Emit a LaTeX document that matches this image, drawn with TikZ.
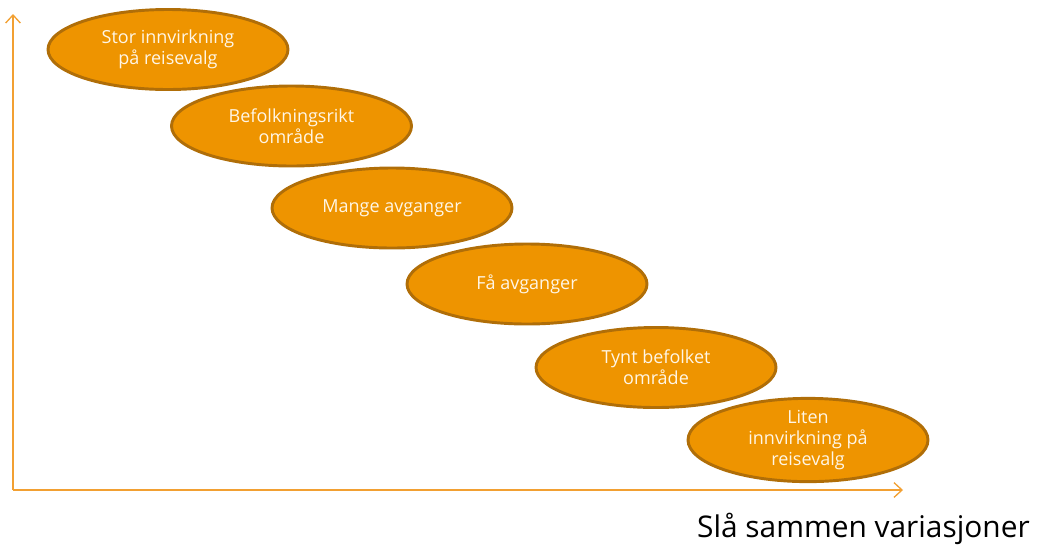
\documentclass[tikz,border=0pt]{standalone}
\usepackage{fontspec}
\setmainfont{Open Sans}
\usetikzlibrary{shapes.geometric,arrows.meta}
\definecolor{axiscol}{HTML}{F2A032}
\definecolor{ellfill}{HTML}{EE9400}
\definecolor{elldraw}{HTML}{B06E08}
\definecolor{elltext}{HTML}{FFF6E6}
\tikzset{
  blob/.style={ellipse, fill=ellfill, draw=elldraw, line width=2.2pt,
    minimum width=180pt, minimum height=60pt, inner sep=0pt,
    text=elltext, font=\fontsize{13.5}{15.5}\selectfont, align=center},
  axisline/.style={draw=axiscol, line width=1pt, -{Straight Barb[length=6pt,width=11pt]}}
}
\begin{document}
\begin{tikzpicture}[x=0.75pt,y=-0.75pt]
\useasboundingbox (0,0) rectangle (1037,544);
\coordinate (origin) at (13,490);
\coordinate (ytop) at (13,14);
\coordinate (xend) at (903,490);
\draw[axisline] (origin) -- (ytop);
\draw[axisline] (origin) -- (xend);
\node[blob] (e1) at (168,49.5) {Stor innvirkning\\på reisevalg};
\node[blob] (e2) at (291.5,126) {Befolkningsrikt\\område};
\node[blob] (e3) at (392,208) {Mange avganger};
\node[blob] (e4) at (527,284) {Få avganger};
\node[blob] (e5) at (656,367.5) {Tynt befolket\\område};
\node[blob] (e6) at (808,440) {Liten\\innvirkning på\\reisevalg};
\node[anchor=base east, font=\fontsize{22.4}{26}\selectfont, inner sep=0pt] (title) at (1030,537) {Slå sammen variasjoner};
\end{tikzpicture}
\end{document}
